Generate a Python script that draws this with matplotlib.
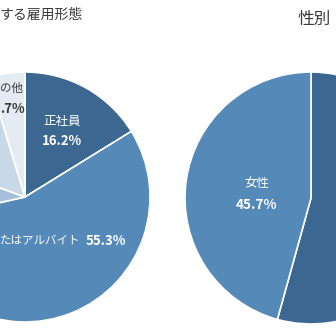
import matplotlib
matplotlib.use('Agg')
import matplotlib.pyplot as plt

plt.rcParams['font.family'] = ['Noto Sans CJK JP', 'DejaVu Sans']

# left pie: employment type (clockwise from 12 o'clock)
emp_labels = ['正社員', 'パートまたはアルバイト', '契約社員', '派遣社員', 'その他']
emp_values = [16.2, 55.3, 9.1, 14.7, 4.7]
emp_colors = ['#3b6790', '#5589b8', '#a7bfd8', '#c9d8e7', '#e4ebf3']

# right pie: gender
sex_labels = ['男性', '女性']
sex_values = [54.3, 45.7]
sex_colors = ['#3b6790', '#5589b8']

W = H = 336
fig = plt.figure(figsize=(3.36, 3.36), dpi=100)
ax = fig.add_axes([0, 0, 1, 1])

def py(y):
    # image row (from top) -> data y
    return H - y

wp = dict(edgecolor='white', linewidth=1.2)
ax.pie(emp_values, colors=emp_colors, startangle=90, counterclock=False,
       center=(25, py(197)), radius=125, wedgeprops=wp)
ax.pie(sex_values, colors=sex_colors, startangle=90, counterclock=False,
       center=(311, py(198)), radius=126, wedgeprops=wp)

ax.set_xlim(0, W)
ax.set_ylim(0, H)
ax.set_aspect('equal')
ax.axis('off')

title_c = '#3a3a3a'
ax.text(0, py(15), 'する雇用形態', fontsize=10, color=title_c, ha='left', va='center')
ax.text(314, py(19), '性別', fontsize=12, color=title_c, ha='center', va='center')

# wedge labels
ax.text(62, py(121), emp_labels[0], fontsize=9, color='white', ha='center', va='center')
ax.text(62, py(141), f'{emp_values[0]}%', fontsize=9.5, color='white', weight='bold',
        ha='center', va='center')

ax.text(0, py(241), 'たはアルバイト', fontsize=8.3, color='white', ha='left', va='center')
ax.text(126, py(241), f'{emp_values[1]}%', fontsize=9.5, color='white', weight='bold',
        ha='right', va='center')

ax.text(0, py(88), 'の他', fontsize=8.3, color='#3a3a3a', ha='left', va='center')
ax.text(0, py(109), f'{emp_values[4]}%'[1:], fontsize=9.5, color='#3a3a3a', weight='bold',
        ha='left', va='center')

ax.text(257, py(183), sex_labels[1], fontsize=9, color='white', ha='center', va='center')
ax.text(257, py(205), f'{sex_values[1]}%', fontsize=9.8, color='white', weight='bold',
        ha='center', va='center')

fig.savefig('out.png', dpi=100)
